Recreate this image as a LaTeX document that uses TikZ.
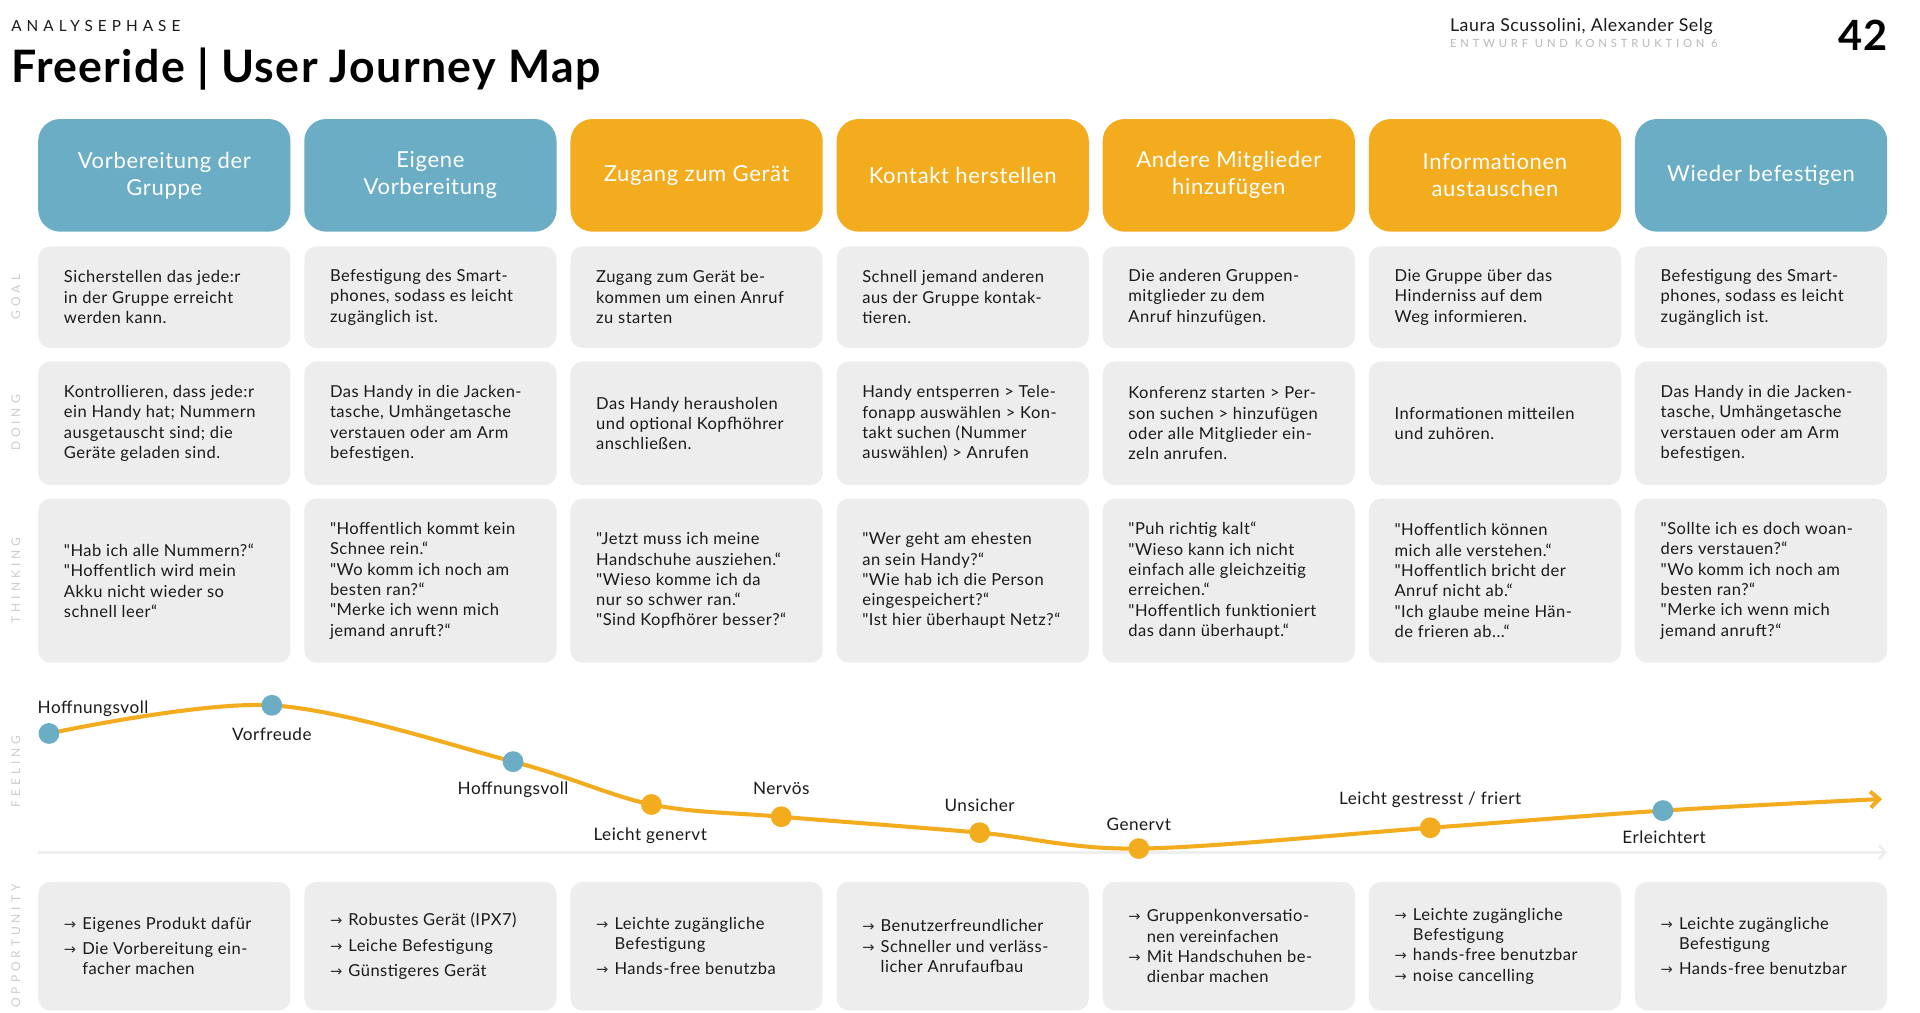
\documentclass[tikz,border=0pt]{standalone}
\usepackage{fontspec}
\setmainfont{Lato}[Ligatures=TeXOff, LetterSpace=3]
\newfontfamily\spaced[LetterSpace=33]{Lato}
\newfontfamily\spacedb[LetterSpace=34]{Lato}
\newfontfamily\symfont{DejaVu Sans}
\usetikzlibrary{arrows.meta}
\definecolor{hblue}{HTML}{6AADC4}
\definecolor{horange}{HTML}{F4AC1F}
\definecolor{cellgray}{HTML}{EDEDED}
\definecolor{sidegray}{HTML}{CCCCCC}
\definecolor{axisgray}{HTML}{EEEEEE}
\definecolor{subgray}{HTML}{B8B8B8}
\definecolor{ink}{HTML}{1A1A1A}
\definecolor{arrgray}{HTML}{333333}
\newcommand\oparr{\makebox[15pt][l]{\symfont\fontsize{12}{12}\selectfont\textcolor{arrgray}{→}}}
\newcommand\opind{\hspace*{15pt}}
\tikzset{
  hdr/.style={rounded corners=18pt, minimum width=206pt, minimum height=92pt, anchor=north west, inner sep=0pt, text=white, font=\fontsize{18}{22}\selectfont, align=center},
  cell/.style={fill=cellgray, rounded corners=10pt, minimum width=206pt, anchor=north west, inner sep=0pt},
  ctext/.style={anchor=west, align=left, inner sep=0pt, text=ink, font=\fontsize{13.5}{16.6}\selectfont},
  side/.style={rotate=90, text=sidegray, font=\spaced\fontsize{9.8}{10}\selectfont, inner sep=0pt},
  feel/.style={anchor=base, text=ink, font=\fontsize{14}{15}\selectfont, inner sep=0pt},
  dotb/.style={circle, fill=hblue, minimum size=17pt, inner sep=0pt},
  doto/.style={circle, fill=horange, minimum size=17pt, inner sep=0pt},
  curveline/.style={draw=horange, line width=3.3pt, line cap=round, -{Straight Barb[length=7pt,width=13pt]}},
  axisline/.style={draw=axisgray, line width=2.2pt, -{Straight Barb[length=5pt,width=11pt]}},
}
\begin{document}
\begin{tikzpicture}[x=1pt,y=-1pt]
\fill[white] (0,0) rectangle (1568,826.5);
\useasboundingbox (0,0) rectangle (1568,826.5);

% title block
\node[anchor=base west, inner sep=0pt, font=\spaced\fontsize{12.5}{14}\selectfont, text=ink] (phase) at (9,26) {ANALYSEPHASE};
\node[anchor=base west, inner sep=0pt, font=\bfseries\fontsize{36.5}{40}\selectfont, text=black] (title) at (9,67) {Freeride | User Journey Map};
\node[anchor=base west, inner sep=0pt, font=\fontsize{14.5}{16}\selectfont, text=ink] (authors) at (1184,26) {Laura Scussolini, Alexander Selg};
\node[anchor=base west, inner sep=0pt, font=\spacedb\fontsize{9.2}{10}\selectfont, text=subgray] (course) at (1184,38.5) {ENTWURF UND KONSTRUKTION 6};
\node[anchor=base east, inner sep=0pt, font=\bfseries\fontsize{34}{36}\selectfont, text=black] (page) at (1542,41) {42};

% side labels
\node[side] (sGoal) at (13,242.5) {GOAL};
\node[side] (sDoing) at (13,345.5) {DOING};
\node[side] (sThink) at (13,474) {THINKING};
\node[side] (sFeel) at (13,630) {FEELING};
\node[side] (sOpp) at (13,772.5) {OPPORTUNITY};

% headers
\node[hdr, fill=hblue] (h1) at (31,97) {Vorbereitung der\\Gruppe};
\node[hdr, fill=hblue] (h2) at (248.3,97) {Eigene\\Vorbereitung};
\node[hdr, fill=horange] (h3) at (465.7,97) {Zugang zum Gerät};
\node[hdr, fill=horange] (h4) at (683,97) {Kontakt herstellen};
\node[hdr, fill=horange] (h5) at (900.3,97) {Andere Mitglieder\\hinzufügen};
\node[hdr, fill=horange] (h6) at (1117.7,97) {Informationen\\austauschen};
\node[hdr, fill=hblue] (h7) at (1335,97) {Wieder befestigen};

% goal row
\node[cell, minimum height=83pt] (g1) at (31,201) {};
\node[cell, minimum height=83pt] (g2) at (248.3,201) {};
\node[cell, minimum height=83pt] (g3) at (465.7,201) {};
\node[cell, minimum height=83pt] (g4) at (683,201) {};
\node[cell, minimum height=83pt] (g5) at (900.3,201) {};
\node[cell, minimum height=83pt] (g6) at (1117.7,201) {};
\node[cell, minimum height=83pt] (g7) at (1335,201) {};
\node[ctext] (g1t) at ([xshift=21pt]g1.west) {Sicherstellen das jede:r\\in der Gruppe erreicht\\werden kann.};
\node[ctext] (g2t) at ([xshift=21pt]g2.west) {Befestigung des Smart-\\phones, sodass es leicht\\zugänglich ist.};
\node[ctext] (g3t) at ([xshift=21pt]g3.west) {Zugang zum Gerät be-\\kommen um einen Anruf\\zu starten};
\node[ctext] (g4t) at ([xshift=21pt]g4.west) {Schnell jemand anderen\\aus der Gruppe kontak-\\tieren.};
\node[ctext] (g5t) at ([xshift=21pt]g5.west) {Die anderen Gruppen-\\mitglieder zu dem\\Anruf hinzufügen.};
\node[ctext] (g6t) at ([xshift=21pt]g6.west) {Die Gruppe über das\\Hinderniss auf dem\\Weg informieren.};
\node[ctext] (g7t) at ([xshift=21pt]g7.west) {Befestigung des Smart-\\phones, sodass es leicht\\zugänglich ist.};

% doing row
\node[cell, minimum height=101pt] (d1) at (31,295) {};
\node[cell, minimum height=101pt] (d2) at (248.3,295) {};
\node[cell, minimum height=101pt] (d3) at (465.7,295) {};
\node[cell, minimum height=101pt] (d4) at (683,295) {};
\node[cell, minimum height=101pt] (d5) at (900.3,295) {};
\node[cell, minimum height=101pt] (d6) at (1117.7,295) {};
\node[cell, minimum height=101pt] (d7) at (1335,295) {};
\node[ctext] (d1t) at ([xshift=21pt]d1.west) {Kontrollieren, dass jede:r\\ein Handy hat; Nummern\\ausgetauscht sind; die\\Geräte geladen sind.};
\node[ctext] (d2t) at ([xshift=21pt]d2.west) {Das Handy in die Jacken-\\tasche, Umhängetasche\\verstauen oder am Arm\\befestigen.};
\node[ctext] (d3t) at ([xshift=21pt]d3.west) {Das Handy herausholen\\und optional Kopfhöhrer\\anschließen.};
\node[ctext] (d4t) at ([xshift=21pt]d4.west) {Handy entsperren > Tele-\\fonapp auswählen > Kon-\\takt suchen (Nummer\\auswählen) > Anrufen};
\node[ctext] (d5t) at ([xshift=21pt]d5.west) {Konferenz starten > Per-\\son suchen > hinzufügen\\oder alle Mitglieder ein-\\zeln anrufen.};
\node[ctext] (d6t) at ([xshift=21pt]d6.west) {Informationen mitteilen\\und zuhören.};
\node[ctext] (d7t) at ([xshift=21pt]d7.west) {Das Handy in die Jacken-\\tasche, Umhängetasche\\verstauen oder am Arm\\befestigen.};

% thinking row
\node[cell, minimum height=134pt] (t1) at (31,407) {};
\node[cell, minimum height=134pt] (t2) at (248.3,407) {};
\node[cell, minimum height=134pt] (t3) at (465.7,407) {};
\node[cell, minimum height=134pt] (t4) at (683,407) {};
\node[cell, minimum height=134pt] (t5) at (900.3,407) {};
\node[cell, minimum height=134pt] (t6) at (1117.7,407) {};
\node[cell, minimum height=134pt] (t7) at (1335,407) {};
\node[ctext] (t1t) at ([xshift=21pt]t1.west) {"Hab ich alle Nummern?“\\"Hoffentlich wird mein\\Akku nicht wieder so\\schnell leer“};
\node[ctext] (t2t) at ([xshift=21pt]t2.west) {"Hoffentlich kommt kein\\Schnee rein.“\\"Wo komm ich noch am\\besten ran?“\\"Merke ich wenn mich\\jemand anruft?“};
\node[ctext] (t3t) at ([xshift=21pt]t3.west) {"Jetzt muss ich meine\\Handschuhe ausziehen.“\\"Wieso komme ich da\\nur so schwer ran.“\\"Sind Kopfhörer besser?“};
\node[ctext] (t4t) at ([xshift=21pt]t4.west) {"Wer geht am ehesten\\an sein Handy?“\\"Wie hab ich die Person\\eingespeichert?“\\"Ist hier überhaupt Netz?“};
\node[ctext] (t5t) at ([xshift=21pt]t5.west) {"Puh richtig kalt“\\"Wieso kann ich nicht\\einfach alle gleichzeitig\\erreichen.“\\"Hoffentlich funktioniert\\das dann überhaupt.“};
\node[ctext] (t6t) at ([xshift=21pt]t6.west) {"Hoffentlich können\\mich alle verstehen.“\\"Hoffentlich bricht der\\Anruf nicht ab.“\\"Ich glaube meine Hän-\\de frieren ab...“};
\node[ctext] (t7t) at ([xshift=21pt]t7.west) {"Sollte ich es doch woan-\\ders verstauen?“\\"Wo komm ich noch am\\besten ran?“\\"Merke ich wenn mich\\jemand anruft?“};

% feeling
\coordinate (ax0) at (31,696);
\coordinate (ax1) at (1541,696);
\draw[axisline] (ax0) -- (ax1);
\coordinate (p1) at (40,599);
\coordinate (p2) at (222,576);
\coordinate (p3) at (419,622);
\coordinate (p4) at (532,657);
\coordinate (p5) at (638,667);
\coordinate (p6) at (800,680);
\coordinate (p7) at (930,693);
\coordinate (p8) at (1168,676);
\coordinate (p9) at (1358,662);
\coordinate (pe) at (1537,652.5);
\draw[curveline] plot[smooth, tension=0.55] coordinates {(p1) (p2) (p3) (p4) (p5) (p6) (p7) (p8) (p9) (pe)};
\node[dotb] (e1) at (p1) {};
\node[dotb] (e2) at (p2) {};
\node[dotb] (e3) at (p3) {};
\node[doto] (e4) at (p4) {};
\node[doto] (e5) at (p5) {};
\node[doto] (e6) at (p6) {};
\node[doto] (e7) at (p7) {};
\node[doto] (e8) at (p8) {};
\node[dotb] (e9) at (p9) {};
\node[feel] (l1) at (76,583) {Hoffnungsvoll};
\node[feel] (l2) at (222,605) {Vorfreude};
\node[feel] (l3) at (419,649) {Hoffnungsvoll};
\node[feel] (l4) at (531,686) {Leicht genervt};
\node[feel] (l5) at (638,649) {Nervös};
\node[feel] (l6) at (800,663) {Unsicher};
\node[feel] (l7) at (930,678) {Genervt};
\node[feel] (l8) at (1168,657) {Leicht gestresst / friert};
\node[feel] (l9) at (1359,689) {Erleichtert};

% opportunity row
\node[cell, minimum height=105pt] (o1) at (31,720) {};
\node[cell, minimum height=105pt] (o2) at (248.3,720) {};
\node[cell, minimum height=105pt] (o3) at (465.7,720) {};
\node[cell, minimum height=105pt] (o4) at (683,720) {};
\node[cell, minimum height=105pt] (o5) at (900.3,720) {};
\node[cell, minimum height=105pt] (o6) at (1117.7,720) {};
\node[cell, minimum height=105pt] (o7) at (1335,720) {};
\node[ctext] (o1t) at ([xshift=21pt]o1.west) {\oparr Eigenes Produkt dafür\\[4pt]\oparr Die Vorbereitung ein-\\ \opind facher machen};
\node[ctext] (o2t) at ([xshift=21pt]o2.west) {\oparr Robustes Gerät (IPX7)\\[4pt]\oparr Leiche Befestigung\\[4pt]\oparr Günstigeres Gerät};
\node[ctext] (o3t) at ([xshift=21pt]o3.west) {\oparr Leichte zugängliche\\ \opind Befestigung\\[4pt]\oparr Hands-free benutzba};
\node[ctext] (o4t) at ([xshift=21pt]o4.west) {\oparr Benutzerfreundlicher\\ \oparr Schneller und verläss-\\ \opind licher Anrufaufbau};
\node[ctext] (o5t) at ([xshift=21pt]o5.west) {\oparr Gruppenkonversatio-\\ \opind nen vereinfachen\\ \oparr Mit Handschuhen be-\\ \opind dienbar machen};
\node[ctext] (o6t) at ([xshift=21pt]o6.west) {\oparr Leichte zugängliche\\ \opind Befestigung\\ \oparr hands-free benutzbar\\ \oparr noise cancelling};
\node[ctext] (o7t) at ([xshift=21pt]o7.west) {\oparr Leichte zugängliche\\ \opind Befestigung\\[4pt]\oparr Hands-free benutzbar};
\end{tikzpicture}
\end{document}
